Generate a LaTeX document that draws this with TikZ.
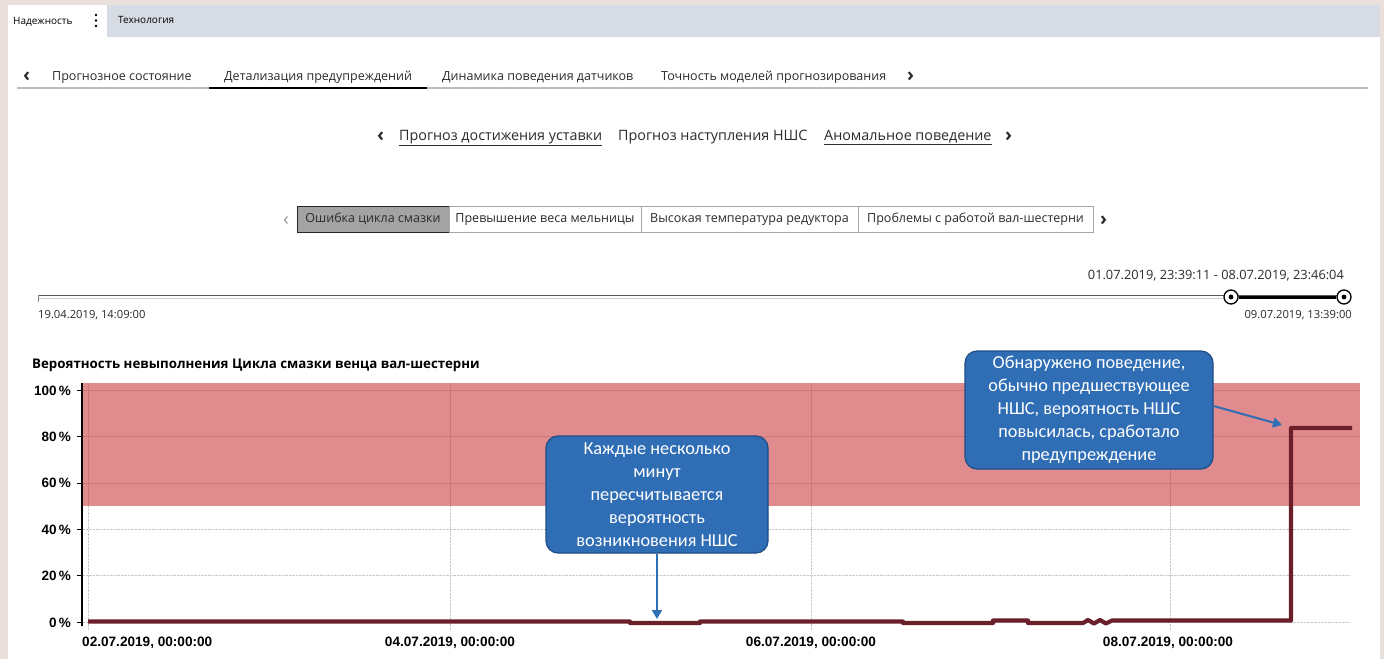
\documentclass[tikz,border=0pt]{standalone}
\usepackage{fontspec}
\setmainfont{Open Sans}
\newfontfamily\chartfont{Liberation Sans}
\newfontfamily\notefont{Carlito}
\usetikzlibrary{arrows.meta}

\definecolor{framebg}{HTML}{E9E0DC}
\definecolor{topbar}{HTML}{D6DBE4}
\definecolor{uitext}{HTML}{2B2B2B}
\definecolor{sepline}{HTML}{BDBDBD}
\definecolor{btnfill}{HTML}{A3A3A3}
\definecolor{riskband}{HTML}{E08C8E}
\definecolor{riskgrid}{HTML}{C97779}
\definecolor{gridgray}{HTML}{C3CACE}
\definecolor{probline}{HTML}{6B1F28}
\definecolor{notefill}{HTML}{2F6DB5}
\definecolor{noteline}{HTML}{1E4C86}

\tikzset{
  tablabel/.style={anchor=base west,inner sep=0pt,text=uitext,font=\fontsize{12.5}{15}\selectfont},
  chevron/.style={anchor=base west,inner sep=0pt,text=uitext,font=\bfseries\fontsize{19}{20}\selectfont},
  linklabel/.style={anchor=base west,inner sep=0pt,text=uitext,font=\fontsize{14.3}{16}\selectfont},
  filterbtn/.style={draw=gray!70,line width=1pt,minimum height=26pt,inner sep=0pt,text height=9pt,text depth=3pt,text=uitext,font=\fontsize{12.5}{15}\selectfont},
  datelabel/.style={inner sep=0pt,text=uitext,font=\fontsize{11.2}{13}\selectfont},
  axislabel/.style={anchor=base east,inner sep=0pt,font=\chartfont\bfseries\fontsize{13.5}{15}\selectfont},
  ticklabel/.style={anchor=base,inner sep=0pt,font=\chartfont\bfseries\fontsize{13.6}{15}\selectfont},
  notebox/.style={draw=noteline,line width=1.2pt,fill=notefill,rounded corners=12pt,text=white,align=center,inner sep=0pt,font=\notefont\fontsize{18.3}{23}\selectfont},
  notearrow/.style={draw=notefill,line width=2pt,-{Triangle[length=9pt,width=10pt]}},
  knob/.style={circle,draw=black,line width=1.3pt,fill=white,minimum size=14pt,inner sep=0pt},
}

\begin{document}
\begin{tikzpicture}[x=1pt,y=-1pt]
  \useasboundingbox (0,0) rectangle (1384,659);
  \fill[framebg] (0,0) rectangle (1384,659);
  \fill[white] (8,5) rectangle (1380,659);

  % top menu
  \fill[topbar] (107,5) rectangle (1380,37);
  \node[anchor=base west,inner sep=0pt,font=\fontsize{10}{12}\selectfont] (menuA) at (13,24) {Надежность};
  \foreach \d in {15,20.5,26} \fill (96,\d) circle (1.3);
  \node[anchor=base west,inner sep=0pt,font=\fontsize{10}{12}\selectfont] (menuB) at (118,23) {Технология};

  % tab row
  \draw[sepline,line width=1.5pt] (17,88) -- (1368,88);
  \draw[black,line width=2.5pt] (209,88) -- (427,88);
  \node[chevron] (tabPrev) at (23,81) {‹};
  \node[tablabel] (tabA) at (52,80) {Прогнозное состояние};
  \node[tablabel] (tabB) at (224,80) {Детализация предупреждений};
  \node[tablabel] (tabC) at (442,80) {Динамика поведения датчиков};
  \node[tablabel] (tabD) at (661,80) {Точность моделей прогнозирования};
  \node[chevron] (tabNext) at (907,81) {›};

  % forecast links
  \node[chevron] (linkPrev) at (377,141) {‹};
  \node[linklabel] (linkA) at (399,140) {\underline{Прогноз достижения уставки}};
  \node[linklabel] (linkB) at (618,140) {Прогноз наступления НШС};
  \node[linklabel] (linkC) at (824,140) {\underline{Аномальное поведение}};
  \node[chevron] (linkNext) at (1005,141) {›};

  % filter buttons
  \node[chevron,text=gray!80,font=\fontsize{19}{20}\selectfont] (btnPrev) at (283,225) {‹};
  \node[filterbtn,fill=btnfill,draw=gray!30!black,minimum width=152pt] (btnA) at (373,219) {Ошибка цикла смазки};
  \node[filterbtn,minimum width=192pt] (btnB) at (545,219) {Превышение веса мельницы};
  \node[filterbtn,minimum width=217pt] (btnC) at (749.5,219) {Высокая температура редуктора};
  \node[filterbtn,minimum width=235pt] (btnD) at (975.5,219) {Проблемы с работой вал-шестерни};
  \node[chevron] (btnNext) at (1100,225) {›};

  % period slider
  \node[datelabel,anchor=base east,font=\fontsize{12.8}{15}\selectfont] (period) at (1344,279) {01.07.2019, 23:39:11 - 08.07.2019, 23:46:04};
  \draw[gray!40,line width=1pt] (38,298.5) -- (1344,298.5);
  \draw[gray!70!black,line width=1.5pt] (38,295.5) -- (1344,295.5);
  \draw[gray] (38,295) -- (38,302);
  \node[knob] (knobL) at (1231,297) {};
  \node[knob] (knobR) at (1344,297) {};
  \draw[black,line width=3pt] (knobL) -- (knobR);
  \fill (knobL) circle (2.4);
  \fill (knobR) circle (2.4);
  \node[datelabel,anchor=base west] (startDate) at (38,318) {19.04.2019, 14:09:00};
  \node[datelabel,anchor=base east] (endDate) at (1352,318) {09.07.2019, 13:39:00};

  % chart
  \node[anchor=base west,inner sep=0pt,font=\bfseries\fontsize{13.3}{15}\selectfont] (chartTitle) at (32,368) {Вероятность невыполнения Цикла смазки венца вал-шестерни};
  \fill[riskband] (83,383) rectangle (1360,506);
  \foreach \p in {0,20,40}{
    \pgfmathsetmacro\yy{622-2.32*\p}
    \draw[gridgray,densely dotted] (83,\yy) -- (1350,\yy);
  }
  \foreach \p in {60,80,100}{
    \pgfmathsetmacro\yy{622-2.32*\p}
    \draw[riskgrid] (83,\yy) -- (1360,\yy);
  }
  \foreach \x in {88,450,811,1170}{
    \draw[gridgray,densely dotted] (\x,506) -- (\x,630);
    \draw[riskgrid] (\x,383) -- (\x,506);
  }
  \draw[black,line width=1.2pt] (82,383) -- (82,626);
  \foreach \p in {0,20,40,60,80,100}{
    \pgfmathsetmacro\yy{622-2.32*\p}
    \draw[black] (77,\yy) -- (82,\yy);
    \node[axislabel] (tick\p) at (71,\yy+5) {\p\,\%};
  }
  \node[ticklabel,anchor=base west] (dayA) at (82,646) {02.07.2019, 00:00:00};
  \node[ticklabel] (dayB) at (450,646) {04.07.2019, 00:00:00};
  \node[ticklabel] (dayC) at (811,646) {06.07.2019, 00:00:00};
  \node[ticklabel] (dayD) at (1168,646) {08.07.2019, 00:00:00};

  \draw[probline,line width=4.2pt,line join=round]
    (88,621.5) -- (630,621.5) -- (630,623) -- (700,623) -- (700,621.5)
    -- (903,621.5) -- (903,623) -- (993,623) -- (993,620.5) -- (1028,620.5)
    -- (1028,623) -- (1083,623) -- (1088,620) -- (1094,623.5) -- (1100,620)
    -- (1106,623.5) -- (1112,620.5) -- (1291,620.5) -- (1291,428) -- (1352,428);

  % callouts
  \node[notebox,minimum width=222pt,minimum height=117pt] (noteA) at (657,494.5)
    {Каждые несколько\\минут\\пересчитывается\\вероятность\\возникновения НШС};
  \coordinate (noteAtip) at (657,619);
  \draw[notearrow] (noteA) -- (noteAtip);

  \node[notebox,minimum width=248pt,minimum height=118pt] (noteB) at (1089,410)
    {Обнаружено поведение,\\обычно предшествующее\\НШС, вероятность НШС\\повысилась, сработало\\предупреждение};
  \coordinate (noteBtip) at (1282,425);
  \draw[notearrow] ([yshift=4pt]noteB.east) -- (noteBtip);
\end{tikzpicture}
\end{document}
